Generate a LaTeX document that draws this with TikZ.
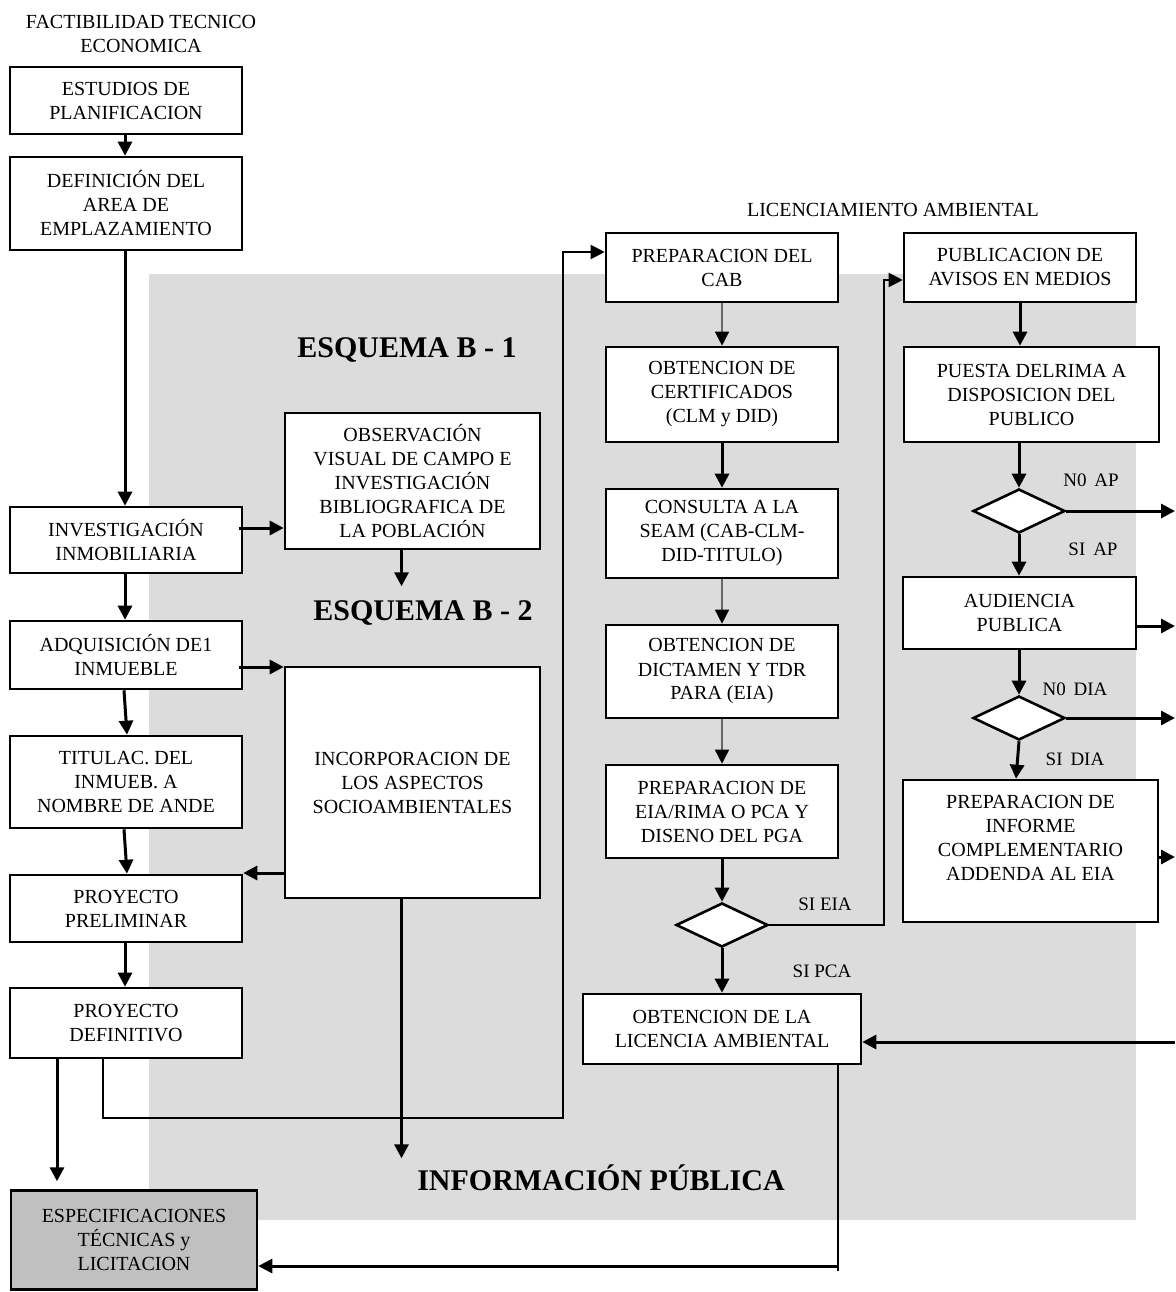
\documentclass[tikz,border=0pt]{standalone}
\usepackage{fontspec}
\setmainfont{Liberation Serif}
\usetikzlibrary{arrows.meta,shapes.geometric}
\definecolor{bggray}{HTML}{DCDCDC}
\definecolor{espgray}{HTML}{C0C0C0}
\begin{document}
\begin{tikzpicture}[x=1pt,y=-1pt,
  box/.style={draw, line width=2.6pt, fill=white, align=center, inner sep=0pt,
    font=\fontsize{20}{24}\selectfont},
  txt/.style={align=center, inner sep=0pt, font=\fontsize{20}{24}\selectfont},
  lbl/.style={inner sep=0pt, font=\fontsize{19}{22}\selectfont},
  big/.style={inner sep=0pt, font=\fontsize{30}{36}\selectfont\bfseries},
  dia/.style={draw, line width=2.6pt, fill=white, diamond, inner sep=0pt,
    minimum width=92pt, minimum height=44pt},
  tarrow/.style={line width=3pt, -{Triangle[length=14pt,width=14pt]}},
  narrow/.style={line width=1.4pt, draw=black!60, -{Triangle[length=14pt,width=14pt,color=black,fill=black]}},
  conn/.style={line width=2pt},
  carrow/.style={line width=2pt, -{Triangle[length=14pt,width=14pt]}}
]
\useasboundingbox (0,0) rectangle (1175,1292);
\fill[white] (0,0) rectangle (1175,1292);
\fill[bggray] (149,274) rectangle (1136,1220);

% titles
\node[txt] (t1) at (141,34) {FACTIBILIDAD TECNICO\\ECONOMICA};
\node[txt] (t2) at (893,210) {LICENCIAMIENTO AMBIENTAL};
\node[big] (b1) at (407,350) {ESQUEMA B - 1};
\node[big] (b2) at (423,613) {ESQUEMA B - 2};
\node[big] (ip) at (601,1178) {INFORMACIÓN PÚBLICA};

% left column
\node[box, minimum width=232pt, minimum height=67pt] (est) at (126,100.5) {ESTUDIOS DE\\PLANIFICACION};
\node[box, minimum width=232pt, minimum height=93pt] (def) at (126,203.5) {DEFINICIÓN DEL\\AREA DE\\EMPLAZAMIENTO};
\node[box, minimum width=232pt, minimum height=66pt] (inv) at (126,540) {INVESTIGACIÓN\\INMOBILIARIA};
\node[box, minimum width=232pt, minimum height=68pt] (adq) at (126,655) {ADQUISICIÓN DE1\\INMUEBLE};
\node[box, minimum width=232pt, minimum height=92pt] (tit) at (126,782) {TITULAC. DEL\\INMUEB. A\\NOMBRE DE ANDE};
\node[box, minimum width=232pt, minimum height=67pt] (pre) at (126,908.5) {PROYECTO\\PRELIMINAR};
\node[box, minimum width=232pt, minimum height=70pt] (dfn) at (126,1023) {PROYECTO\\DEFINITIVO};
\node[box, fill=espgray, minimum width=246pt, minimum height=99pt] (esp) at (134,1240) {ESPECIFICACIONES\\TÉCNICAS y\\LICITACION};

% second column
\node[box, minimum width=255pt, minimum height=136pt] (obs) at (412.5,481) {OBSERVACIÓN\\VISUAL DE CAMPO E\\INVESTIGACIÓN\\BIBLIOGRAFICA DE\\LA POBLACIÓN};
\node[box, minimum width=255pt, minimum height=231pt] (inc) at (412.5,782.5) {INCORPORACION DE\\LOS ASPECTOS\\SOCIOAMBIENTALES};

% third column
\node[box, minimum width=232pt, minimum height=69pt] (cab) at (722,267.5) {PREPARACION DEL\\CAB};
\node[box, minimum width=232pt, minimum height=95pt] (cer) at (722,394.5) {OBTENCION DE\\CERTIFICADOS\\(CLM y DID)};
\node[box, minimum width=232pt, minimum height=89pt] (con) at (722,533.5) {CONSULTA A LA\\SEAM (CAB-CLM-\\DID-TITULO)};
\node[box, minimum width=232pt, minimum height=93pt] (dic) at (722,671.5) {OBTENCION DE\\DICTAMEN Y TDR\\PARA (EIA)};
\node[box, minimum width=232pt, minimum height=93pt] (eia) at (722,811.5) {PREPARACION DE\\EIA/RIMA O PCA Y\\DISENO DEL PGA};
\node[dia] (d1) at (722,925) {};
\node[box, minimum width=278pt, minimum height=70pt] (lic) at (722,1029) {OBTENCION DE LA\\LICENCIA AMBIENTAL};

% fourth column
\node[box, minimum width=232pt, minimum height=69pt] (pub) at (1020,267.5) {PUBLICACION DE\\AVISOS EN MEDIOS};
\node[box, minimum width=255pt, minimum height=95pt] (pue) at (1031.5,394.5) {PUESTA DELRIMA A\\DISPOSICION DEL\\PUBLICO};
\node[dia] (d2) at (1019,511) {};
\node[box, minimum width=233pt, minimum height=72pt] (aud) at (1019.5,613) {AUDIENCIA\\PUBLICA};
\node[dia] (d3) at (1019,718) {};
\node[box, minimum width=255pt, minimum height=142pt] (inf) at (1030.5,851) {};
\node[txt] (inft) at (1030.5,838) {PREPARACION DE\\INFORME\\COMPLEMENTARIO\\ADDENDA AL EIA};

% labels
\node[lbl] (l1) at (1091,480) {N0\, AP};
\node[lbl] (l2) at (1093,549) {SI\, AP};
\node[lbl] (l3) at (1075,689) {N0\, DIA};
\node[lbl] (l4) at (1075,759) {SI\, DIA};
\node[lbl] (l5) at (825,904) {SI EIA};
\node[lbl] (l6) at (822,971) {SI PCA};

% free ends
\coordinate (e1) at (1175,511);
\coordinate (e2) at (1175,626);
\coordinate (e3) at (1175,718);
\coordinate (e4) at (1175,857);
\coordinate (e5) at (1175,1042);
\coordinate (j1) at (563,1118);
\coordinate (j2) at (563,252);
\coordinate (j3) at (884,925);
\coordinate (j4) at (884,280);
\coordinate (j5) at (838,1266);

% left column arrows
\draw[tarrow] ([xshift=-1pt]est.south) -- ([xshift=-1pt]def.north);
\draw[tarrow] ([xshift=-1pt]def.south) -- ([xshift=-1pt]inv.north);
\draw[tarrow] ([xshift=-1pt]inv.south) -- ([xshift=-1pt]adq.north);
\draw[tarrow] ([xshift=-2pt]adq.south) -- ([xshift=1pt]tit.north);
\draw[tarrow] ([xshift=-2pt]tit.south) -- ([xshift=1pt]pre.north);
\draw[tarrow] ([xshift=-1pt]pre.south) -- ([xshift=-1pt]dfn.north);
\draw[tarrow] ([xshift=-69pt]dfn.south) -- ++(0,122);

% to and from second column
\draw[tarrow] ([yshift=12pt,xshift=-4pt]inv.east) -- ([yshift=12pt]inv.east -| obs.west);
\draw[tarrow] ([yshift=-12pt,xshift=-4pt]adq.east) -- ([yshift=-12pt]adq.east -| inc.west);
\draw[tarrow] ([xshift=-11pt]obs.south) -- ++(0,36);
\draw[tarrow] ([yshift=-90.5pt,xshift=2pt]inc.west) -- ([yshift=-90.5pt]inc.west -| pre.east);
\draw[tarrow] ([xshift=-11pt]inc.south) -- ++(0,259);

% project to CAB
\draw[carrow] ([xshift=-23pt]dfn.south) |- (j1) -- (j2) -- (j2 -| cab.west);

% third column arrows
\draw[narrow] (cab.south) -- (cer.north);
\draw[tarrow] (cer.south) -- (con.north);
\draw[narrow] (con.south) -- (dic.north);
\draw[narrow] (dic.south) -- (eia.north);
\draw[tarrow] (eia.south) -- (d1.north);
\draw[tarrow] (d1.south) -- (lic.north);
\draw[carrow] (d1.east) -- (j3) -- (j4) -- (j4 -| pub.west);

% fourth column arrows
\draw[tarrow] (pub.south) -- (pub.south |- pue.north);
\draw[tarrow] (d2.north |- pue.south) -- (d2.north);
\draw[tarrow] (d2.east) -- (e1);
\draw[tarrow] (d2.south) -- (d2.south |- aud.north);
\draw[tarrow] (e2 -| aud.east) -- (e2);
\draw[tarrow] (d3.north |- aud.south) -- (d3.north);
\draw[tarrow] (d3.east) -- (e3);
\draw[tarrow] (d3.south) -- ([xshift=-14.5pt]inf.north);
\draw[tarrow] (e4 -| inf.east) -- (e4);
\draw[tarrow] (e5) -- (e5 -| lic.east);

% licence to specifications
\draw[conn] ([xshift=116pt]lic.south) -- ++(0,206);
\draw[tarrow] (j5) -- (j5 -| esp.east);
\end{tikzpicture}
\end{document}
